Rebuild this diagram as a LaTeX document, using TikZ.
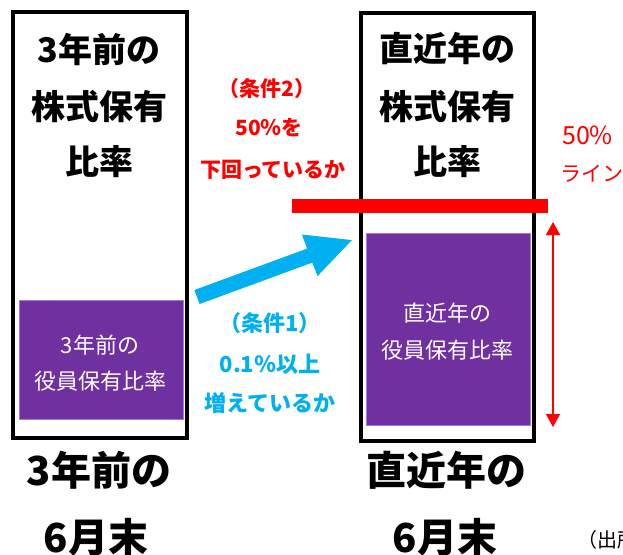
\documentclass[tikz,border=0pt]{standalone}
\usepackage{fontspec}
\newfontfamily\cjk{Noto Sans CJK JP}
\usetikzlibrary{arrows.meta}
\definecolor{barpurple}{RGB}{112,48,160}
\definecolor{edgepurple}{RGB}{160,120,235}
\definecolor{arrowblue}{RGB}{0,176,240}
\definecolor{linered}{RGB}{255,0,0}
\tikzset{
  frame/.style={draw=black, line width=4pt},
  bar/.style={fill=barpurple, draw=edgepurple, line width=1pt},
  boxtitle/.style={font=\cjk\bfseries\fontsize{34}{34}\selectfont, inner sep=0pt},
  datelabel/.style={font=\cjk\bfseries\fontsize{40}{40}\selectfont, inner sep=0pt},
  condred/.style={font=\cjk\bfseries\fontsize{21}{21}\selectfont, text=linered, inner sep=0pt},
  condblue/.style={font=\cjk\bfseries\fontsize{22}{22}\selectfont, text=arrowblue, inner sep=0pt},
  bartext/.style={font=\cjk\fontsize{22}{22}\selectfont, text=white, inner sep=0pt},
  linelabel/.style={font=\cjk\fontsize{22}{22}\selectfont, text=linered, inner sep=0pt, anchor=west},
  source/.style={font=\cjk\fontsize{20}{20}\selectfont, inner sep=0pt, anchor=west},
}
\begin{document}
\begin{tikzpicture}[x=1pt,y=-1pt]
\clip (0,0) rectangle (623,554);
\fill[white] (0,0) rectangle (623,554);

% frames
\draw[frame] (13,12) rectangle (187,438);
\draw[frame] (361,13) rectangle (534,441);

% purple bars
\draw[bar] (19,300) rectangle (183,419);
\draw[bar] (366,233) rectangle (530,425);

% box titles
\node[boxtitle] (lt1) at (99,50) {3年前の};
\node[boxtitle] (lt2) at (99,107) {株式保有};
\node[boxtitle] (lt3) at (99,162) {比率};
\node[boxtitle] (rt1) at (447,49) {直近年の};
\node[boxtitle] (rt2) at (447,107) {株式保有};
\node[boxtitle] (rt3) at (447,162) {比率};

% bar texts
\node[bartext] (lb1) at (100,345) {3年前の};
\node[bartext] (lb2) at (100,381) {役員保有比率};
\node[bartext] (rb1) at (447,313) {直近年の};
\node[bartext] (rb2) at (447,350) {役員保有比率};

% bottom labels
\node[datelabel] (ld1) at (99,470) {3年前の};
\node[datelabel] (ld2) at (96,537) {6月末};
\node[datelabel] (rd1) at (446,470) {直近年の};
\node[datelabel] (rd2) at (445,537) {6月末};

% red 50% line
\coordinate (redL) at (292,206);
\coordinate (redR) at (548,206);
\draw[linered, line width=14pt] (redL) -- (redR);
\node[linelabel, font=\cjk\fontsize{25}{25}\selectfont] (l50) at (562,135) {50\%};
\node[linelabel, font=\cjk\fontsize{21}{21}\selectfont] (lline) at (560,174) {ライン};

% red double arrow
\coordinate (daTop) at (553,222);
\coordinate (daBot) at (553,427);
\draw[linered, line width=1.5pt, {Triangle[width=14pt,length=13pt]}-{Triangle[width=14pt,length=13pt]}] (daTop) -- (daBot);

% condition 2 (red)
\node[condred] (c21) at (267,89) {（条件2）};
\node[condred] (c22) at (269,128) {50％を};
\node[condred] (c23) at (273,170) {下回っているか};

% condition 1 (blue)
\node[condblue] (c11) at (270,323) {（条件1）};
\node[condblue] (c12) at (270,364) {0.1％以上};
\node[condblue] (c13) at (270,403) {増えているか};

% blue block arrow
\fill[arrowblue] (194.4,290) -- (307.1,248.6) -- (301.9,234.5) -- (351.9,240.1)
  -- (317.5,276.1) -- (312.3,262.6) -- (199.6,304) -- cycle;

% source (cut off)
\node[source] (src) at (577,540) {（出所};
\end{tikzpicture}
\end{document}
